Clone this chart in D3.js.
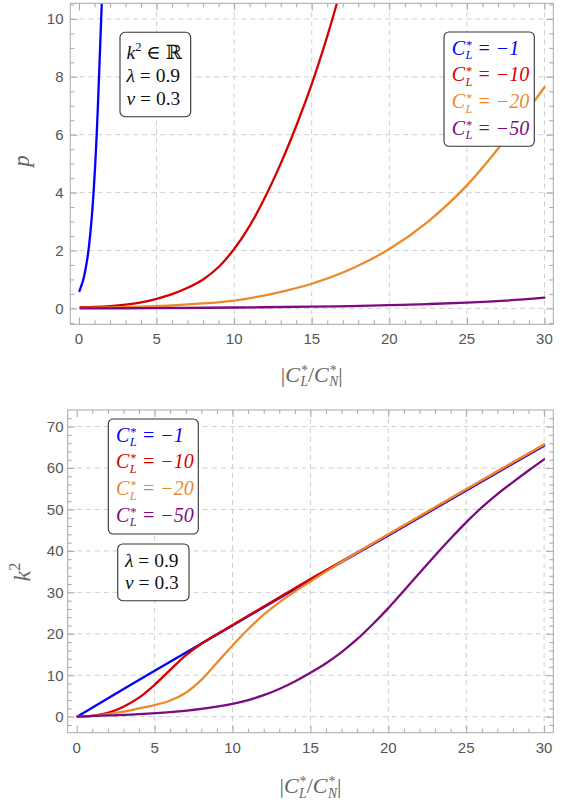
<!DOCTYPE html>
<html><head><meta charset="utf-8">
<script src="https://cdn.jsdelivr.net/npm/d3@7"></script>
<style>body{margin:0;background:#fff} text{white-space:pre}</style>
</head><body>
<svg id="chart" width="563" height="803"></svg>
<script>
// ---------- data ----------
const seriesNames = ["−1", "−10", "−20", "−50"];
const seriesColors = ["#0000ff", "#d60000", "#ea8a2c", "#7d0a82"];
const xTicks = [0, 5, 10, 15, 20, 25, 30];
const pTicks = [0, 2, 4, 6, 8, 10];
const kTicks = [0, 10, 20, 30, 40, 50, 60, 70];

// top panel: p vs |C_L/C_N|
const pBlueX = [0.03, 0.13, 0.28, 0.47, 0.61, 0.8, 0.94, 1.05, 1.14, 1.22, 1.29, 1.36, 1.43, 1.5];
const pBlueY = [0.6, 0.75, 1.0, 1.5, 2.0, 3.0, 4.0, 5.0, 6.0, 7.0, 8.0, 9.0, 10.0, 11.0];
const pRedX = [0.1, 1, 2, 3, 4, 5, 6, 7, 8, 9, 10, 11, 12, 13, 14, 15, 16, 16.6];
const pRedY = [0.04, 0.05, 0.08, 0.13, 0.21, 0.33, 0.49, 0.71, 1.0, 1.43, 2.05, 2.85, 3.85, 5.0, 6.3, 7.75, 9.4, 10.5];
const pOrangeX = [0.1, 2, 4, 6, 8, 10, 12, 13, 15, 17.5, 20, 22.5, 25, 27.5, 30];
const pOrangeY = [0.02, 0.03, 0.06, 0.1, 0.17, 0.27, 0.45, 0.57, 0.85, 1.35, 2.05, 3.0, 4.25, 5.85, 7.64];
const pPurpleX = [0.1, 5, 10, 15, 17.5, 20, 22.5, 25, 27.5, 30];
const pPurpleY = [0.0, 0.01, 0.03, 0.06, 0.08, 0.11, 0.15, 0.2, 0.27, 0.37];

// bottom panel: k^2 vs |C_L/C_N|
const kBlueX = [0.05, 5, 10, 15, 20, 25, 30];
const kBlueY = [0.05, 11.1, 22.0, 33.0, 43.7, 54.6, 65.4];
const kRedX = [0.05, 1, 2, 3, 4, 5, 6, 7, 8, 9, 10, 15, 20, 25, 30];
const kRedY = [0.0, 0.2, 0.9, 2.4, 4.6, 7.7, 11.3, 14.8, 17.6, 19.9, 22.1, 33.2, 43.9, 54.8, 65.6];
const kOrangeX = [0.05, 1, 2, 3, 4, 5, 6, 7, 8, 9, 10, 11, 12, 13, 14, 15, 16, 18, 20, 25, 30];
const kOrangeY = [0.0, 0.2, 0.6, 1.2, 2.0, 2.8, 3.9, 5.8, 8.9, 13.0, 17.2, 21.1, 24.6, 27.6, 30.2, 32.6, 35.0, 39.6, 44.0, 54.9, 65.7];
const kPurpleX = [0.05, 2, 4, 6, 8, 10, 11, 12, 13, 14, 15, 16, 17, 18, 19, 20, 21, 22, 23, 24, 25, 26, 27, 28, 29, 30];
const kPurpleY = [0.0, 0.3, 0.6, 1.1, 1.9, 3.1, 4.0, 5.2, 6.7, 8.5, 10.6, 12.9, 15.6, 18.7, 22.3, 26.2, 30.4, 34.7, 38.9, 43.0, 46.9, 50.5, 53.7, 56.6, 59.4, 62.1];

// ---------- drawing ----------
const svg = d3.select("#chart");
const SERIF = "'Liberation Serif','DejaVu Serif',serif";
const SANS = "'Liberation Sans','DejaVu Sans',sans-serif";
const FRAME = "#a8a8a8";
const LABEL = "#666666";
const TICKLBL = "#555555";

// one <text> with tspans; "stack" pieces share x with the following piece
function rich(parent, x, y, pieces, o) {
  const t = parent.append("text").attr("font-family", o.family).attr("font-size", o.size)
    .attr("fill", o.color).attr("xml:space", "preserve");
  let curDy = 0, total = 0, pendingW = null, carry = 0;
  pieces.forEach(p => {
    const ts = t.append("tspan").attr("font-size", o.size * (p.s || 1))
      .attr("font-style", p.i ? "italic" : "normal").text(p.t);
    if (p.f) ts.attr("font-family", p.f);
    const tdy = (p.dy || 0) * o.size;
    if (tdy - curDy !== 0) ts.attr("dy", tdy - curDy);
    curDy = tdy;
    if (carry) ts.attr("dx", carry);
    carry = 0;
    const w = ts.node().getComputedTextLength();
    if (p.stack) { pendingW = w; carry = -w; }
    else if (pendingW != null) { const m = Math.max(pendingW, w); carry = m - w; total += m; pendingW = null; }
    else total += w;
    if (p.gap) { carry += p.gap * o.size; total += p.gap * o.size; }
  });
  const off = o.anchor === "middle" ? -total / 2 : (o.anchor === "end" ? -total : 0);
  t.attr("transform", `translate(${x},${y}) rotate(${o.rotate || 0}) translate(${off},0)`);
  return t;
}

function cStar(sub) {
  return [
    { t: "C", i: true, gap: 0.02 },
    { t: "*", i: true, s: 0.62, dy: -0.3, stack: true },
    { t: sub, i: true, s: 0.62, dy: 0.22 }
  ];
}

function legendBox(parent, bx, by, bw, bh, tx, ty0, step) {
  parent.append("rect").attr("x", bx).attr("y", by).attr("width", bw).attr("height", bh)
    .attr("rx", 5).attr("fill", "#fff").attr("stroke", "#333").attr("stroke-width", 1.1);
  seriesNames.forEach((nm, i) => {
    rich(parent, tx, ty0 + i * step, cStar("L").concat([{ t: " = " + nm, i: true }]),
      { size: 20, family: SERIF, color: seriesColors[i] });
  });
}

function paramBox(parent, bx, by, bw, bh, tx, ty0, step, lines) {
  parent.append("rect").attr("x", bx).attr("y", by).attr("width", bw).attr("height", bh)
    .attr("rx", 5).attr("fill", "#fff").attr("stroke", "#333").attr("stroke-width", 1.1);
  lines.forEach((pcs, i) => rich(parent, tx, ty0 + i * step, pcs, { size: 19.5, family: SERIF, color: "#111" }));
}

function panel(cfg) {
  const g = svg.append("g");
  const x = d3.scaleLinear().domain(cfg.xd).range([cfg.L, cfg.R]);
  const y = d3.scaleLinear().domain(cfg.yd).range([cfg.B, cfg.T]);
  const id = "clip" + cfg.name;
  svg.append("clipPath").attr("id", id).append("rect")
    .attr("x", cfg.L).attr("y", cfg.T).attr("width", cfg.R - cfg.L).attr("height", cfg.B - cfg.T);

  // grid
  g.append("g").selectAll("line").data(xTicks.filter(v => v > 0)).join("line")
    .attr("x1", d => x(d)).attr("x2", d => x(d)).attr("y1", cfg.T).attr("y2", cfg.B)
    .attr("stroke", "#cfcfcf").attr("stroke-dasharray", "5,4").attr("stroke-width", 1);
  g.append("g").selectAll("line").data(cfg.yTicks).join("line")
    .attr("x1", cfg.L).attr("x2", cfg.R).attr("y1", d => y(d)).attr("y2", d => y(d))
    .attr("stroke", "#cfcfcf").attr("stroke-dasharray", "5,4").attr("stroke-width", 1);

  // frame ticks via d3 axes (inward)
  const xMinor = d3.range(0, 31, 1).filter(v => v % 5 !== 0);
  const yMinor = d3.range(cfg.yMinorStart, cfg.yd[1], cfg.yMinorStep).filter(v => !cfg.yTicks.some(t => Math.abs(t - v) < 1e-6) && v > cfg.yd[0]);
  const mk = (axisFn, scale, vals, len, tr) => {
    const a = g.append("g").attr("transform", tr)
      .call(axisFn(scale).tickValues(vals).tickSize(len).tickFormat(""));
    a.select(".domain").remove();
    a.selectAll("line").attr("stroke", FRAME);
  };
  mk(d3.axisTop, x, xTicks, 7, `translate(0,${cfg.B})`);
  mk(d3.axisTop, x, xMinor, 4, `translate(0,${cfg.B})`);
  mk(d3.axisBottom, x, xTicks, 7, `translate(0,${cfg.T})`);
  mk(d3.axisBottom, x, xMinor, 4, `translate(0,${cfg.T})`);
  mk(d3.axisRight, y, cfg.yTicks, 7, `translate(${cfg.L},0)`);
  mk(d3.axisRight, y, yMinor, 4, `translate(${cfg.L},0)`);
  mk(d3.axisLeft, y, cfg.yTicks, 7, `translate(${cfg.R},0)`);
  mk(d3.axisLeft, y, yMinor, 4, `translate(${cfg.R},0)`);

  // tick labels
  g.append("g").selectAll("text").data(xTicks).join("text")
    .attr("x", d => x(d)).attr("y", cfg.B + 20).attr("text-anchor", "middle")
    .attr("font-family", SANS).attr("font-size", 15).attr("fill", TICKLBL).text(d => d);
  g.append("g").selectAll("text").data(cfg.yTicks).join("text")
    .attr("x", 63.5).attr("y", d => y(d) + 5.3).attr("text-anchor", "end")
    .attr("font-family", SANS).attr("font-size", 15).attr("fill", TICKLBL).text(d => d);

  // curves
  const line = d3.line().x(d => x(d[0])).y(d => y(d[1])).curve(d3.curveCatmullRom.alpha(0.5));
  const cg = g.append("g").attr("clip-path", `url(#${id})`);
  cfg.series.forEach((s, i) => {
    cg.append("path").datum(d3.zip(s[0], s[1])).attr("d", line)
      .attr("fill", "none").attr("stroke", seriesColors[i]).attr("stroke-width", 2.3)
      .attr("stroke-linejoin", "round").attr("stroke-linecap", "round");
  });

  // frame
  g.append("rect").attr("x", cfg.L).attr("y", cfg.T).attr("width", cfg.R - cfg.L).attr("height", cfg.B - cfg.T)
    .attr("fill", "none").attr("stroke", FRAME).attr("stroke-width", 1);

  // x label
  rich(g, (cfg.L + cfg.R) / 2, cfg.xLabY,
    [{ t: "|" }].concat(cStar("L"), [{ t: "/" }], cStar("N"), [{ t: "|" }]),
    { size: 22, family: SERIF, color: LABEL, anchor: "middle" });
  return { g, x, y };
}

const topPanel = panel({
  name: "top", L: 70.3, R: 553.3, T: 3.3, B: 324.3,
  xd: [-0.56, 30.57], yd: [-0.55, 10.54], yTicks: pTicks, yMinorStart: -0.5, yMinorStep: 0.5,
  xLabY: 381.5,
  series: [[pBlueX, pBlueY], [pRedX, pRedY], [pOrangeX, pOrangeY], [pPurpleX, pPurpleY]]
});
rich(topPanel.g, 29, 161, [{ t: "p", i: true }], { size: 23, family: SERIF, color: LABEL, anchor: "middle", rotate: -90 });
paramBox(topPanel.g, 120, 32.3, 70.7, 84.4, 126.5, 58.5, 23, [
  [{ t: "k", i: true }, { t: "2", s: 0.65, dy: -0.38 }, { t: " ∈ " }, { t: "ℝ", f: "'DejaVu Serif',serif" }],
  [{ t: "λ", i: true }, { t: " = 0.9" }],
  [{ t: "ν", i: true }, { t: " = 0.3" }]
]);
legendBox(topPanel.g, 444, 32, 90.3, 114.3, 451.7, 54.7, 26.7);

const botPanel = panel({
  name: "bot", L: 67.7, R: 553.3, T: 410, B: 732.7,
  xd: [-0.58, 30.59], yd: [-3.86, 74.0], yTicks: kTicks, yMinorStart: -2, yMinorStep: 2,
  xLabY: 793,
  series: [[kBlueX, kBlueY], [kRedX, kRedY], [kOrangeX, kOrangeY], [kPurpleX, kPurpleY]]
});
rich(botPanel.g, 29.5, 572, [{ t: "k", i: true }, { t: "2", s: 0.68, dy: -0.4 }], { size: 24, family: SERIF, color: LABEL, anchor: "middle", rotate: -90 });
legendBox(botPanel.g, 108.3, 419, 90, 115, 116, 441.7, 26.7);
paramBox(botPanel.g, 117.7, 544, 71.3, 56.7, 125, 566.7, 22.6, [
  [{ t: "λ", i: true }, { t: " = 0.9" }],
  [{ t: "ν", i: true }, { t: " = 0.3" }]
]);
</script>
</body></html>
